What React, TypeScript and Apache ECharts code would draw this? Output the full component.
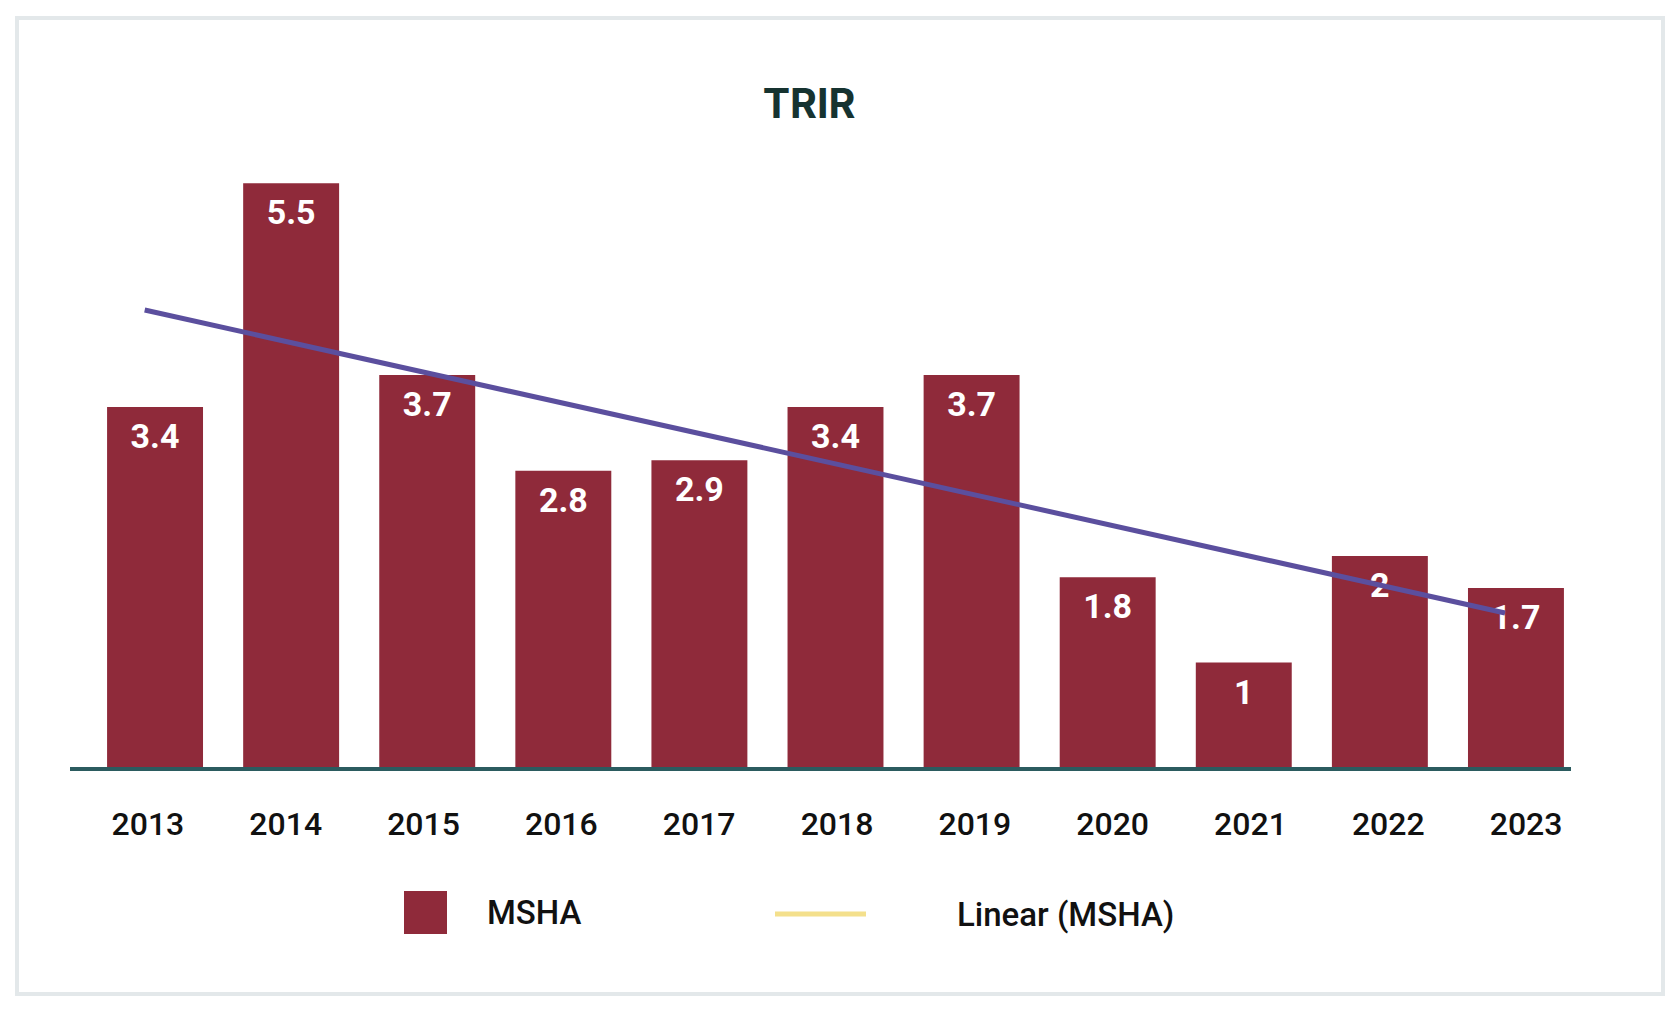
import React, { useEffect, useRef } from "react";
import * as echarts from "echarts";

const years = ["2013", "2014", "2015", "2016", "2017", "2018", "2019", "2020", "2021", "2022", "2023"];
const mshaValues = [3.4, 5.5, 3.7, 2.8, 2.9, 3.4, 3.7, 1.8, 1, 2, 1.7];
// Trend line endpoints: [category position, value]
const trendPoints: [number, number][] = [
  [-0.076, 4.31],
  [9.92, 1.465],
];

const BAR_COLOR = "#8f2a3a";
const TREND_COLOR = "#5b4f9e";
const LEGEND_LINE_COLOR = "#f4e08c";
const AXIS_COLOR = "#2b5b5f";

export default function App() {
  const ref = useRef<HTMLDivElement>(null);

  useEffect(() => {
    if (!ref.current) return;
    const chart = echarts.init(ref.current, undefined, { renderer: "svg" });
    const option: any = {
      animation: false,
      backgroundColor: "#ffffff",
      title: {
        text: "TRIR",
        left: 804,
        top: 77,
        textAlign: "center",
        textStyle: {
          fontFamily: "Inter",
          fontWeight: "bold",
          fontSize: 41,
          color: "#163330",
        },
      },
      graphic: [
        {
          type: "rect",
          z: -10,
          shape: { x: 17, y: 18, width: 1646, height: 976 },
          style: { fill: "#ffffff", stroke: "#e3e8ea", lineWidth: 4 },
          silent: true,
        },
        {
          type: "line",
          z: 10,
          shape: { x1: 70, y1: 769, x2: 1571, y2: 769 },
          style: { stroke: AXIS_COLOR, lineWidth: 4 },
          silent: true,
        },
      ],
      legend: [
        {
          left: 404,
          top: 891,
          padding: 0,
          itemWidth: 43,
          itemHeight: 43,
          data: [{ name: "MSHA", icon: "rect" }],
          textStyle: {
            fontFamily: "Roboto",
            fontWeight: 500,
            fontSize: 33,
            color: "#111111",
            padding: [0, 0, 0, 35],
          },
          selectedMode: false,
        },
        {
          left: 775,
          top: 894,
          padding: 0,
          itemWidth: 91,
          itemHeight: 5,
          data: [
            {
              name: "Linear (MSHA)",
              icon: "rect",
              itemStyle: { color: LEGEND_LINE_COLOR },
            },
          ],
          textStyle: {
            fontFamily: "Roboto",
            fontWeight: 500,
            fontSize: 33,
            color: "#111111",
            padding: [0, 0, 0, 86],
            lineHeight: 40,
          },
          selectedMode: false,
        },
      ],
      grid: [
        {
          left: 87,
          right: 96,
          top: 130,
          bottom: 240,
          containLabel: false,
        },
        {
          left: 79,
          right: 85,
          top: 130,
          bottom: 240,
          containLabel: false,
        },
      ],
      xAxis: [
        {
          type: "category",
          gridIndex: 0,
          data: years,
          axisLine: { show: false },
          axisTick: { show: false },
          axisLabel: { show: false },
        },
        {
          type: "value",
          gridIndex: 0,
          min: -0.5,
          max: 10.5,
          show: false,
        },
        {
          type: "category",
          gridIndex: 1,
          data: years,
          axisLine: { show: false },
          axisTick: { show: false },
          axisLabel: {
            margin: 39,
            fontFamily: "Roboto",
            fontWeight: 500,
            fontSize: 32,
            color: "#111111",
          },
        },
      ],
      yAxis: [
        {
          type: "value",
          gridIndex: 0,
          min: 0,
          max: 6,
          show: false,
          splitLine: { show: false },
        },
        {
          type: "value",
          gridIndex: 1,
          min: 0,
          max: 6,
          show: false,
          splitLine: { show: false },
        },
      ],
      series: [
        {
          name: "MSHA",
          type: "bar",
          data: mshaValues,
          barCategoryGap: "29.5%",
          itemStyle: { color: BAR_COLOR },
          label: {
            show: true,
            position: "insideTop",
            distance: 12,
            color: "#ffffff",
            fontFamily: "Roboto",
            fontWeight: "bold",
            fontSize: 34,
          },
        },
        {
          name: "Linear (MSHA)",
          type: "line",
          xAxisIndex: 1,
          data: trendPoints,
          showSymbol: false,
          symbol: "none",
          lineStyle: { color: TREND_COLOR, width: 5 },
          itemStyle: { color: TREND_COLOR },
          z: 5,
        },
      ],
    };
    chart.setOption(option);
    return () => chart.dispose();
  }, []);

  return (
    <div
      ref={ref}
      style={{ position: "absolute", left: 0, top: 0, width: 1680, height: 1009 }}
    />
  );
}
